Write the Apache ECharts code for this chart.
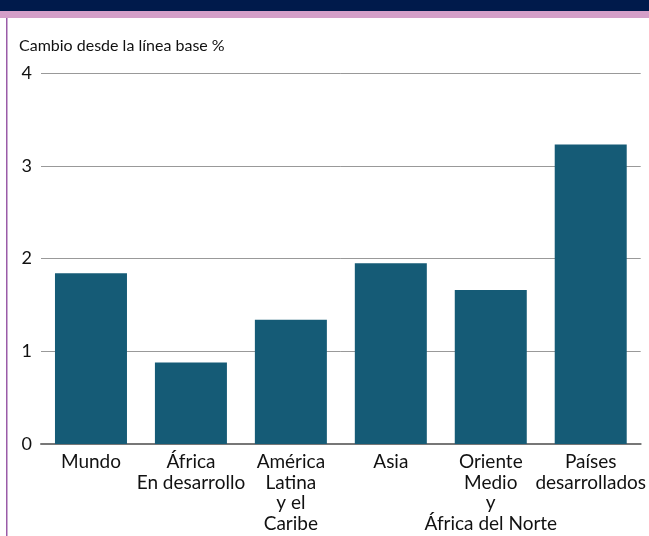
<!DOCTYPE html>
<html>
<head>
<meta charset="utf-8">
<script src="https://cdn.jsdelivr.net/npm/echarts@6/dist/echarts.min.js"></script>
<style>
  html, body { margin: 0; padding: 0; background: #fff; }
  #chart { width: 649px; height: 536px; }
</style>
</head>
<body>
<div id="chart"></div>
<script>
// categorias y valores (cambio desde la linea base, %)
var categorias = ['Mundo', 'África\nEn desarrollo', 'América\nLatina\ny el\nCaribe', 'Asia', 'Oriente\nMedio\ny\nÁfrica del Norte', 'Países\ndesarrollados'];
var valores = [1.84, 0.88, 1.34, 1.95, 1.66, 3.23];
var tituloY = 'Cambio desde la línea base %';

var fuente = 'Lato, "Noto Sans", sans-serif';

var myChart = echarts.init(document.getElementById('chart'));

var option = {
    animation: false,
    graphic: [
        // franja azul superior
        {type: 'rect', left: 0, top: 0, shape: {width: 649, height: 11}, style: {fill: '#001a4b'}},
        // franja rosa
        {type: 'rect', left: 0, top: 11, shape: {width: 649, height: 7}, style: {fill: '#d49fc8'}},
        // linea vertical izquierda
        {type: 'rect', left: 6, top: 18, shape: {width: 1.5, height: 518}, style: {fill: '#9a5ca8'}},
        {
            type: 'text', left: 19, top: 38,
            style: {text: tituloY, font: '16px ' + fuente, fill: '#111'}
        }
    ],
    grid: {left: 41, right: 8, top: 73, bottom: 92},
    xAxis: {
        type: 'category',
        data: categorias,
        axisLine: {show: true, lineStyle: {color: '#777', width: 2}},
        axisTick: {show: false},
        axisLabel: {
            interval: 0,
            margin: 8,
            color: '#111',
            fontSize: 19,
            fontFamily: fuente,
            lineHeight: 20.5,
            align: 'center'
        }
    },
    yAxis: {
        type: 'value',
        min: 0,
        max: 4,
        interval: 1,
        axisLine: {show: false},
        axisTick: {show: false},
        axisLabel: {margin: 9, color: '#111', fontSize: 18, fontFamily: fuente},
        splitLine: {lineStyle: {color: '#999', width: 1}}
    },
    series: [{
        type: 'bar',
        data: valores,
        barWidth: 72,
        itemStyle: {color: '#155b76'}
    }]
};

myChart.setOption(option);
</script>
</body>
</html>
